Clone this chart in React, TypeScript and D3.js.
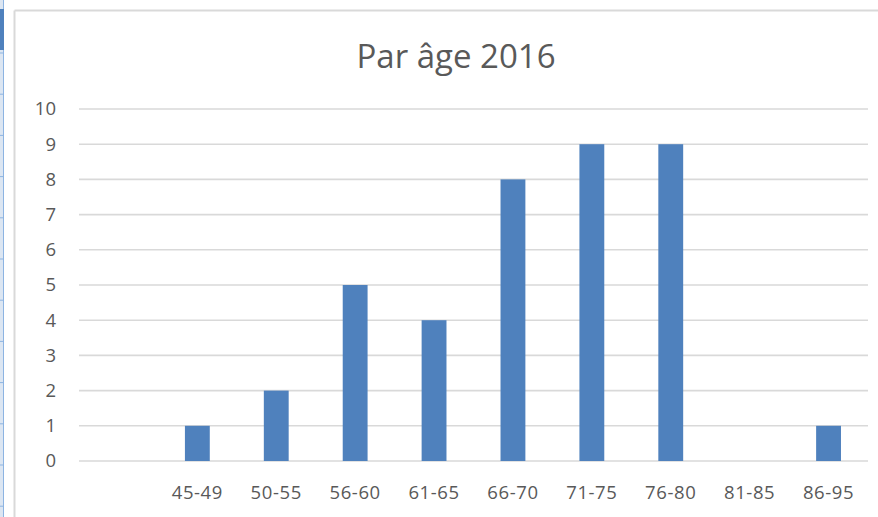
import React from "react";
import * as d3 from "d3";

const title = "Par âge 2016";
const categories = ["", "45-49", "50-55", "56-60", "61-65", "66-70", "71-75", "76-80", "81-85", "86-95"];
const values = [0, 1, 2, 5, 4, 8, 9, 9, 0, 1];
const yTicks = [0, 1, 2, 3, 4, 5, 6, 7, 8, 9, 10];

const W = 878;
const H = 517;
const FONT = "'Open Sans', 'Liberation Sans', sans-serif";
const TEXT = "#595959";
const GRID = "#d9d9d9";
const BAR = "#4f81bd";

export default function App() {
  const plot = { left: 79, right: 868, top: 109, bottom: 461 };
  const x = d3
    .scaleBand<string>()
    .domain(categories.map((c, i) => String(i)))
    .range([plot.left, plot.right])
    .paddingInner(0.685)
    .paddingOuter(0.3425);
  const y = d3.scaleLinear().domain([0, 10]).range([plot.bottom, plot.top]);
  const step = x.step();

  const rowLines: number[] = [];
  for (let yy = 53; yy < H; yy += 41.2) rowLines.push(yy);

  return (
    <svg
      width={W}
      height={H}
      style={{ position: "absolute", left: 0, top: 0, background: "#fff" }}
      xmlns="http://www.w3.org/2000/svg"
    >
      <rect x={0} y={0} width={W} height={H} fill="#fff" />
      {/* spreadsheet edge */}
      <rect x={0} y={0} width={3.5} height={H} fill="#dce6f2" />
      <line x1={3.5} x2={3.5} y1={0} y2={H} stroke="#8db4e2" strokeWidth={1} />
      <rect x={0} y={9} width={4} height={41} fill="#4f81bd" />
      {rowLines.map((yy, i) => (
        <line key={i} x1={0} x2={3.5} y1={yy} y2={yy} stroke="#8db4e2" strokeWidth={1} />
      ))}
      {/* chart frame */}
      <line x1={14.5} x2={W} y1={10.5} y2={10.5} stroke={GRID} strokeWidth={2} />
      <line x1={14.5} x2={14.5} y1={10.5} y2={H} stroke={GRID} strokeWidth={2} />

      <text
        x={456}
        y={68}
        textAnchor="middle"
        fontFamily={FONT}
        fontSize={33}
        fill={TEXT}
      >
        {title}
      </text>

      {yTicks.map((t) => (
        <g key={t}>
          <line
            x1={plot.left}
            x2={plot.right}
            y1={y(t)}
            y2={y(t)}
            stroke={GRID}
            strokeWidth={1.6}
          />
          <text
            x={56}
            y={y(t)}
            dy="0.35em"
            textAnchor="end"
            fontFamily={FONT}
            fontSize={18.5}
            fill={TEXT}
          >
            {t}
          </text>
        </g>
      ))}

      {values.map((v, i) =>
        v > 0 ? (
          <rect
            key={i}
            x={x(String(i))!}
            y={y(v)}
            width={x.bandwidth()}
            height={y(0) - y(v)}
            fill={BAR}
          />
        ) : null
      )}

      {categories.map((c, i) => (
        <text
          key={i}
          x={x(String(i))! + x.bandwidth() / 2}
          y={499}
          textAnchor="middle"
          fontFamily={FONT}
          fontSize={18.5}
          fill={TEXT}
          letterSpacing={0.6}
        >
          {c}
        </text>
      ))}
    </svg>
  );
}
